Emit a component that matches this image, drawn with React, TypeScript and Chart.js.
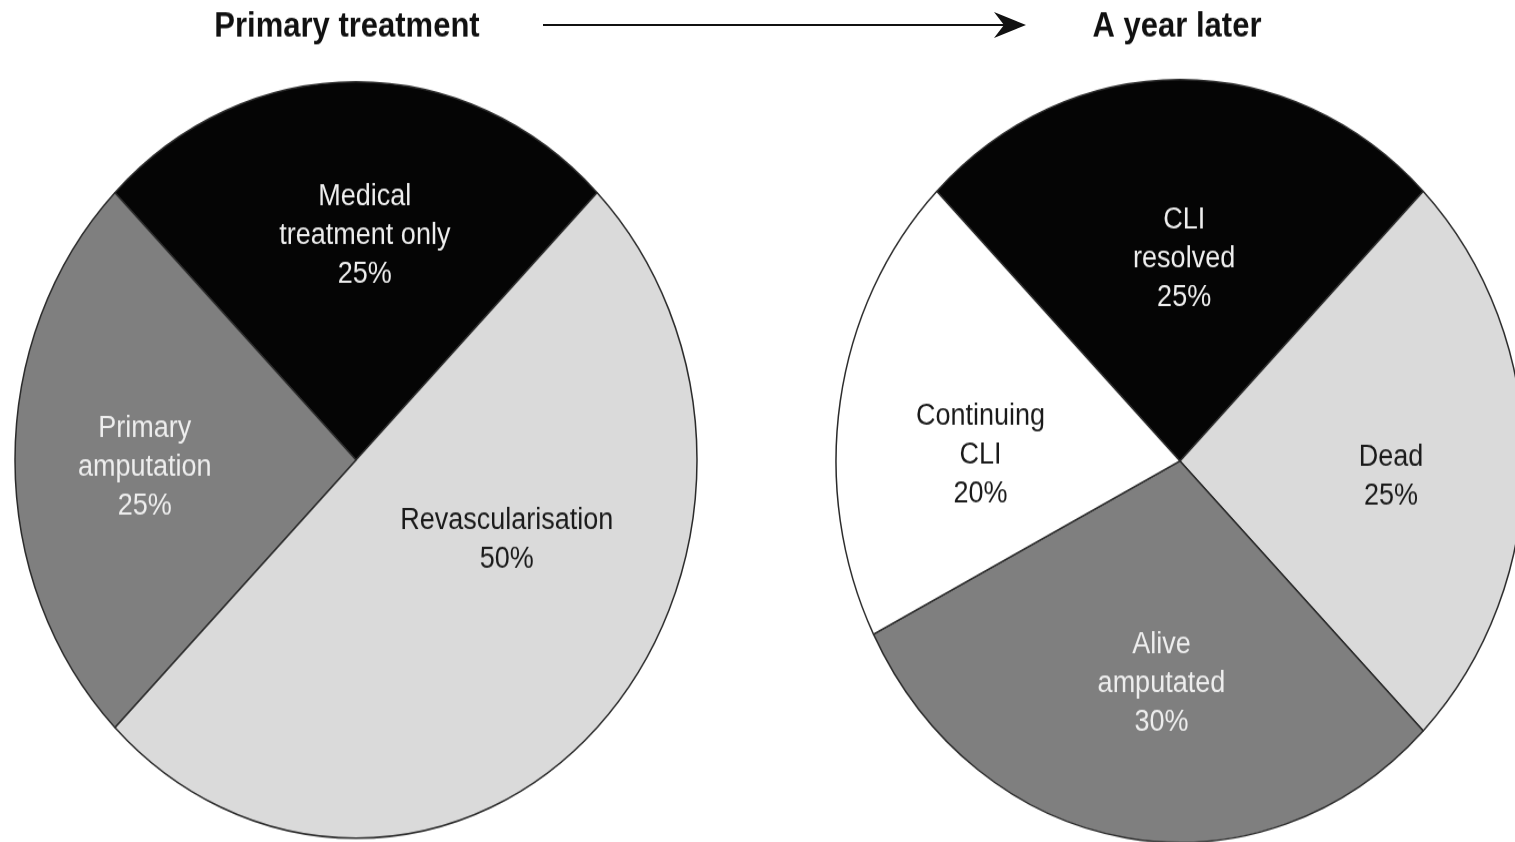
import React, { useEffect, useRef } from "react";
import { Chart, registerables } from "chart.js";

Chart.register(...registerables);

// ---------- data ----------
const leftTitle = "Primary treatment";
const leftCategories = [["Medical", "treatment only"], ["Revascularisation"], ["Primary", "amputation"]];
const leftValues = [25, 50, 25];
const leftColors = ["#050505", "#dadada", "#7f7f7f"];
const leftTextColors = ["#eeeeee", "#1a1a1a", "#eeeeee"];

const rightTitle = "A year later";
const rightCategories = [["CLI", "resolved"], ["Dead"], ["Alive", "amputated"], ["Continuing", "CLI"]];
const rightValues = [25, 25, 30, 20];
const rightColors = ["#050505", "#dadada", "#7f7f7f", "#ffffff"];
const rightTextColors = ["#eeeeee", "#1a1a1a", "#eeeeee", "#1a1a1a"];

// label placement: [angle clockwise from top (deg), fraction of radius]
const leftLabelPlacement = [[2.5, 0.595], [115.5, 0.49], [268.3, 0.62]];
const rightLabelPlacement = [[1.3, 0.53], [93.8, 0.615], [185.3, 0.585], [271.5, 0.58]];

// ---------- layout ----------
const SY = 1.109; // vertical stretch of the original figure
const CANVAS_H = 770;
const BORDER = 1.5;

type PieSpec = {
  title: string;
  titleDx: number;
  categories: string[][];
  values: number[];
  colors: string[];
  textColors: string[];
  placement: number[][];
  centerX: number; // screen px
  centerY: number; // screen px
  radius: number; // internal px
  canvasW: number;
};

const labelPlugin = {
  id: "sliceLabels",
  afterDraw(chart: any, _args: any, opts: any) {
    const ctx = chart.ctx;
    const meta = chart.getDatasetMeta(0);
    const first = meta.data[0];
    if (!first) return;
    const cx = first.x;
    const cy = first.y;
    const R = first.outerRadius;
    ctx.save();
    // title
    ctx.font = "bold 31px 'Liberation Sans', Arial, sans-serif";
    ctx.fillStyle = "#111111";
    ctx.textAlign = "center";
    ctx.textBaseline = "alphabetic";
    ctx.fillText(opts.title, cx + opts.titleDx, 33.4);
    // slice labels
    ctx.font = "27px 'Liberation Sans', Arial, sans-serif";
    ctx.textBaseline = "middle";
    const lineH = 35;
    opts.categories.forEach((cat: string[], i: number) => {
      const [ang, frac] = opts.placement[i];
      const th = (ang * Math.PI) / 180;
      const x = cx + R * frac * Math.sin(th);
      const y = cy - R * frac * Math.cos(th);
      const lines = [...cat, `${opts.values[i]}%`];
      const y0 = y - ((lines.length - 1) * lineH) / 2;
      ctx.fillStyle = opts.textColors[i];
      lines.forEach((ln, k) => ctx.fillText(ln, x, y0 + k * lineH));
    });
    ctx.restore();
  },
};

function PieChart({ spec }: { spec: PieSpec }) {
  const ref = useRef<HTMLCanvasElement | null>(null);
  const cyInt = spec.centerY / SY;
  const half = spec.radius + BORDER / 2;
  const left = spec.centerX - spec.canvasW / 2;
  const padX = spec.canvasW / 2 - half;
  const padTop = cyInt - half;
  const padBottom = CANVAS_H - cyInt - half;

  useEffect(() => {
    if (!ref.current) return;
    const chart = new Chart(ref.current, {
      type: "pie",
      data: {
        labels: spec.categories.map((c) => c.join(" ")),
        datasets: [
          {
            data: spec.values,
            backgroundColor: spec.colors,
            borderColor: "#2a2a2a",
            borderWidth: BORDER,
          },
        ],
      },
      options: {
        responsive: false,
        animation: false,
        rotation: -45,
        layout: { padding: { left: padX, right: padX, top: padTop, bottom: padBottom } },
        plugins: {
          legend: { display: false },
          tooltip: { enabled: false },
          title: { display: false },
          sliceLabels: {
            title: spec.title,
            titleDx: spec.titleDx,
            categories: spec.categories,
            values: spec.values,
            textColors: spec.textColors,
            placement: spec.placement,
          },
        } as any,
      },
      plugins: [labelPlugin],
    });
    return () => chart.destroy();
  }, []);

  return (
    <div
      style={{
        position: "absolute",
        left,
        top: 0,
        width: spec.canvasW,
        height: CANVAS_H,
        transform: `scaleY(${SY})`,
        transformOrigin: "top left",
      }}
    >
      <canvas
        ref={ref}
        width={spec.canvasW}
        height={CANVAS_H}
        style={{ width: spec.canvasW, height: CANVAS_H, display: "block" }}
      />
    </div>
  );
}

export default function App() {
  const leftSpec: PieSpec = {
    title: leftTitle,
    titleDx: -9,
    categories: leftCategories,
    values: leftValues,
    colors: leftColors,
    textColors: leftTextColors,
    placement: leftLabelPlacement,
    centerX: 356,
    centerY: 460,
    radius: 341,
    canvasW: 712,
  };
  const rightSpec: PieSpec = {
    title: rightTitle,
    titleDx: -3,
    categories: rightCategories,
    values: rightValues,
    colors: rightColors,
    textColors: rightTextColors,
    placement: rightLabelPlacement,
    centerX: 1180,
    centerY: 461,
    radius: 344,
    canvasW: 720,
  };
  return (
    <div
      style={{
        position: "absolute",
        left: 0,
        top: 0,
        width: 1515,
        height: 842,
        overflow: "hidden",
        background: "#ffffff",
      }}
    >
      <PieChart spec={leftSpec} />
      <PieChart spec={rightSpec} />
      <svg
        width={1515}
        height={842}
        style={{ position: "absolute", left: 0, top: 0, pointerEvents: "none" }}
      >
        <line x1={543} y1={25} x2={1006} y2={25} stroke="#111" strokeWidth={2} />
        <polygon points="994,12 1026,25 994,38 1004,25" fill="#111" />
      </svg>
    </div>
  );
}
